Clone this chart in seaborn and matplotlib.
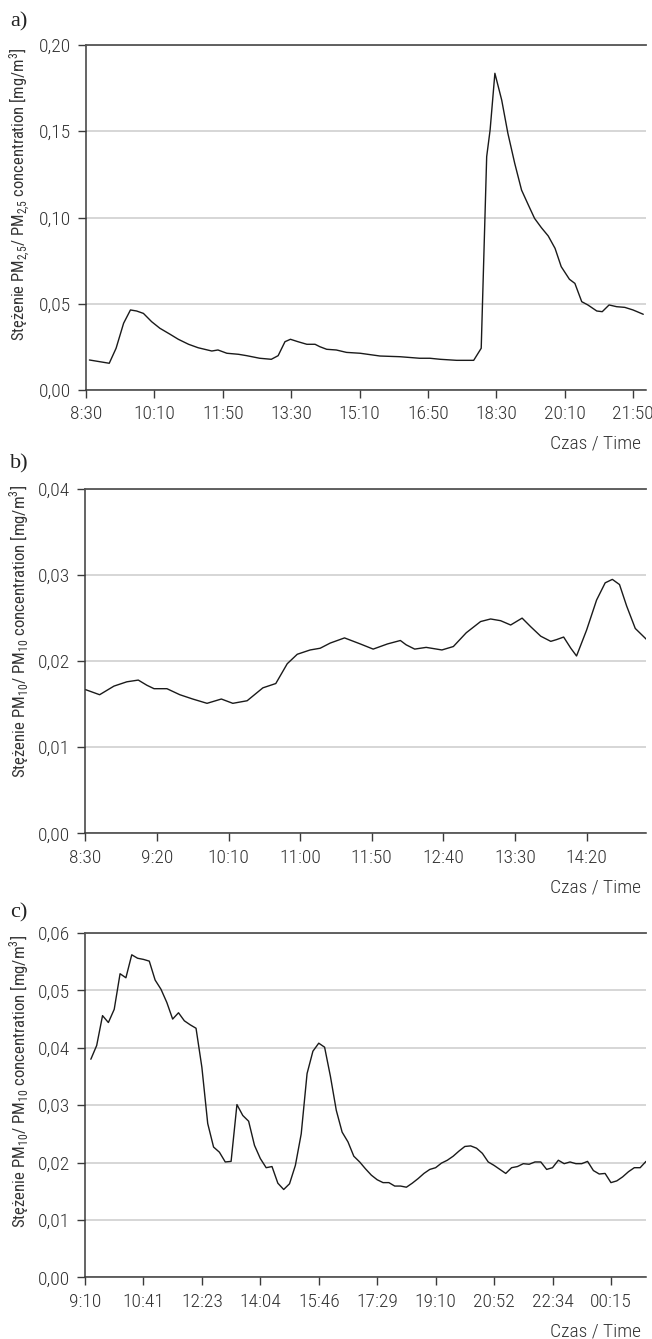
import matplotlib
matplotlib.use("Agg")
import matplotlib.pyplot as plt
from matplotlib import font_manager as fm
import seaborn as sns
import pandas as pd

# ---------------- data ----------------
# panel a: minutes after 8:30, PM2.5 concentration [mg/m3]
a_minutes = [5, 34, 44, 55, 65, 74, 84, 96, 108, 123,
             135, 150, 164, 184, 193, 206, 223, 235, 254, 271,
             281, 291, 299, 310, 323, 335, 342, 352, 366, 381,
             401, 430, 459, 488, 503, 518, 542, 567, 578, 586,
             591, 598, 608, 617, 627, 637, 647, 656, 666, 676,
             686, 695, 707, 715, 725, 734, 747, 755, 765, 776,
             788, 800, 815]
a_values = [0.0174, 0.0155, 0.0242, 0.0387, 0.0464, 0.0458, 0.0444, 0.0396, 0.0358, 0.0323,
            0.0294, 0.0265, 0.0245, 0.0226, 0.0232, 0.0213, 0.0207, 0.0199, 0.0184, 0.0178,
            0.0199, 0.0280, 0.0294, 0.0280, 0.0265, 0.0265, 0.0251, 0.0236, 0.0232, 0.0218,
            0.0213, 0.0197, 0.0193, 0.0184, 0.0184, 0.0178, 0.0172, 0.0172, 0.0242, 0.1353,
            0.1507, 0.1836, 0.1680, 0.1488, 0.1314, 0.1159, 0.1072, 0.0995, 0.0941, 0.0893,
            0.0821, 0.0715, 0.0642, 0.0618, 0.0512, 0.0493, 0.0458, 0.0454, 0.0493, 0.0483,
            0.0479, 0.0464, 0.0439]
a_tick_labels = ["8:30", "10:10", "11:50", "13:30", "15:10", "16:50", "18:30", "20:10", "21:50"]
a_yticks = [0.00, 0.05, 0.10, 0.15, 0.20]
a_ytick_labels = ["0,00", "0,05", "0,10", "0,15", "0,20"]

# panel b: minutes after 8:30, PM10 concentration [mg/m3]
b_minutes = [0, 10, 20, 29, 37, 43, 48, 57, 66, 75,
             85, 95, 103, 113, 124, 133, 141, 148, 157, 164,
             171, 181, 192, 201, 211, 220, 224, 230, 238, 249,
             257, 266, 276, 283, 290, 297, 305, 311, 318, 325,
             329, 334, 339, 343, 350, 357, 363, 368, 373, 378,
             384, 392]
b_values = [0.0167, 0.0161, 0.0171, 0.0176, 0.0178, 0.0172, 0.0168, 0.0168, 0.0161, 0.0156,
            0.0151, 0.0156, 0.0151, 0.0154, 0.0169, 0.0174, 0.0197, 0.0208, 0.0213, 0.0215,
            0.0221, 0.0227, 0.0220, 0.0214, 0.0220, 0.0224, 0.0219, 0.0214, 0.0216, 0.0213,
            0.0217, 0.0233, 0.0246, 0.0249, 0.0247, 0.0242, 0.0250, 0.0240, 0.0229, 0.0223,
            0.0225, 0.0228, 0.0215, 0.0206, 0.0236, 0.0271, 0.0291, 0.0295, 0.0289, 0.0264,
            0.0238, 0.0225]
b_tick_labels = ["8:30", "9:20", "10:10", "11:00", "11:50", "12:40", "13:30", "14:20"]
b_yticks = [0.00, 0.01, 0.02, 0.03, 0.04]
b_ytick_labels = ["0,00", "0,01", "0,02", "0,03", "0,04"]

# panel c: consecutive samples, PM10 concentration [mg/m3]
c_values = [0.0380, 0.0404, 0.0456, 0.0444, 0.0467, 0.0529, 0.0522, 0.0562, 0.0556, 0.0554,
            0.0551, 0.0518, 0.0502, 0.0479, 0.0450, 0.0461, 0.0447, 0.0440, 0.0434, 0.0366,
            0.0268, 0.0227, 0.0218, 0.0201, 0.0202, 0.0301, 0.0282, 0.0272, 0.0230, 0.0207,
            0.0191, 0.0193, 0.0164, 0.0153, 0.0163, 0.0195, 0.0250, 0.0355, 0.0394, 0.0408,
            0.0401, 0.0350, 0.0291, 0.0253, 0.0236, 0.0211, 0.0201, 0.0189, 0.0178, 0.0170,
            0.0165, 0.0165, 0.0159, 0.0159, 0.0157, 0.0164, 0.0172, 0.0181, 0.0188, 0.0191,
            0.0199, 0.0204, 0.0211, 0.0220, 0.0228, 0.0229, 0.0225, 0.0216, 0.0201, 0.0195,
            0.0188, 0.0181, 0.0191, 0.0193, 0.0198, 0.0197, 0.0201, 0.0201, 0.0188, 0.0191,
            0.0204, 0.0198, 0.0201, 0.0198, 0.0198, 0.0202, 0.0186, 0.0180, 0.0181, 0.0165,
            0.0168, 0.0175, 0.0184, 0.0191, 0.0191, 0.0202]
c_tick_labels = ["9:10", "10:41", "12:23", "14:04", "15:46", "17:29", "19:10", "20:52", "22:34", "00:15"]
c_yticks = [0.00, 0.01, 0.02, 0.03, 0.04, 0.05, 0.06]
c_ytick_labels = ["0,00", "0,01", "0,02", "0,03", "0,04", "0,05", "0,06"]

panel_letters = ["a)", "b)", "c)"]
x_title = "Czas / Time"
ylabel_a = r"Stężenie PM$_{\mathregular{2{,}5}}$/ PM$_{\mathregular{2{,}5}}$ concentration [mg/m$^{\mathregular{3}}$]"
ylabel_b = r"Stężenie PM$_{\mathregular{10}}$/ PM$_{\mathregular{10}}$ concentration [mg/m$^{\mathregular{3}}$]"

# ---------------- style ----------------
sns.set_theme(style="white")

# pick a narrow sans font if one is installed
_fonts = fm.fontManager.ttflist
_names = {f.name for f in _fonts}
FAMILY, STRETCH = "DejaVu Sans", "normal"
for cand in ["Liberation Sans Narrow", "Roboto Condensed", "Open Sans Condensed"]:
    if cand in _names:
        FAMILY = cand
        break
else:
    for fam in ["Roboto", "DejaVu Sans", "Open Sans", "Noto Sans", "Liberation Sans"]:
        if any(f.name == fam and str(f.stretch) in ("condensed", "semi-condensed", "extra-condensed", "500", "600", "700", "300", "200", "400")
               and str(f.stretch) not in ("normal", "400") for f in _fonts):
            FAMILY, STRETCH = fam, "condensed"
            break

plt.rcParams["font.family"] = [FAMILY, "DejaVu Sans"]
plt.rcParams["font.stretch"] = STRETCH
plt.rcParams["font.weight"] = "light"
TXT = "#333333"
SPINE = "#3a3a3a"
GRID = "#cccccc"
TICK_FS = 14

W, H = 652, 1339
fig = plt.figure(figsize=(W / 100, H / 100), dpi=100)


def box(left, top, right, bottom):
    return [left / W, 1 - bottom / H, (right - left) / W, (bottom - top) / H]


ax_a = fig.add_axes(box(86, 45, 646, 390))
ax_b = fig.add_axes(box(85.3, 489, 646, 833.3))
ax_c = fig.add_axes(box(85, 933, 646, 1277.3))

df_a = pd.DataFrame({"t": a_minutes, "v": a_values})
df_b = pd.DataFrame({"t": b_minutes, "v": b_values})
df_c = pd.DataFrame({"t": list(range(1, len(c_values) + 1)), "v": c_values})

line_kw = dict(color="#1a1a1a", linewidth=1.0)
sns.lineplot(data=df_a, x="t", y="v", ax=ax_a, **line_kw)
sns.lineplot(data=df_b, x="t", y="v", ax=ax_b, **line_kw)
sns.lineplot(data=df_c, x="t", y="v", ax=ax_c, **line_kw)

configs = [
    (ax_a, (0, 819), [100 * i for i in range(len(a_tick_labels))], a_tick_labels,
     a_yticks, a_ytick_labels, ylabel_a, 0.567),
    (ax_b, (0, 391.5), [50 * i for i in range(len(b_tick_labels))], b_tick_labels,
     b_yticks, b_ytick_labels, ylabel_b, 0.585),
    (ax_c, (0, 96), [10 * i for i in range(len(c_tick_labels))], c_tick_labels,
     c_yticks, c_ytick_labels, ylabel_b, 0.568),
]

renderer = fig.canvas.get_renderer()
for ax, xlim, xt, xtl, yt, ytl, ylab, ly in configs:
    ax.set_xlim(*xlim)
    ax.set_ylim(yt[0], yt[-1])
    ax.set_xticks(xt)
    ax.set_xticklabels(xtl)
    ax.set_yticks(yt)
    ax.set_yticklabels(ytl)
    ax.set_xlabel("")
    lab = ax.set_ylabel(ylab, fontsize=12, color=TXT)
    # fit the y-label to the reference length (~292 px)
    h = lab.get_window_extent(renderer).height
    lab.set_fontsize(12 * 292 / h)
    lab.set_verticalalignment("center")
    ax.yaxis.set_label_coords((20 - 86) / 560, ly)
    ax.grid(axis="y", color=GRID, linewidth=1.1)
    ax.grid(axis="x", visible=False)
    ax.set_axisbelow(True)
    for s in ["left", "bottom"]:
        ax.spines[s].set_color(SPINE)
        ax.spines[s].set_linewidth(1.1)
    ax.spines["top"].set_color("#555555")
    ax.spines["top"].set_linewidth(1.3)
    ax.spines["right"].set_visible(False)
    ax.tick_params(axis="both", direction="out", length=6, width=1.0, color=SPINE,
                   labelsize=TICK_FS, labelcolor=TXT)
    ax.tick_params(axis="x", pad=5, bottom=True)
    ax.tick_params(axis="y", pad=5, left=True)
    ax.patch.set_alpha(0)

# panel letters
for letter, y in zip(panel_letters, [22, 464, 913]):
    fig.text(10 / W, 1 - y / H, letter, fontsize=16, family="Liberation Serif",
             weight="normal", color="#222222", ha="left", va="center")

# x titles
for y in [443, 887, 1331]:
    fig.text(641 / W, 1 - y / H, x_title, fontsize=TICK_FS, color=TXT, ha="right", va="center")

fig.savefig("out.png", dpi=100)
